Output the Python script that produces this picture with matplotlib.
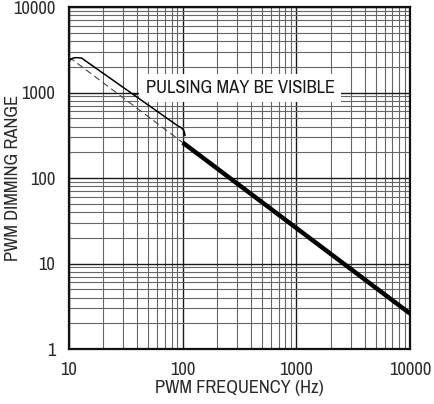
import numpy as np
import matplotlib
matplotlib.use('Agg')
import matplotlib.pyplot as plt
from matplotlib.ticker import LogLocator, FixedLocator, NullFormatter

plt.rcParams['font.family'] = ['Archivo Narrow', 'Liberation Sans', 'DejaVu Sans']

# main curve (solid) and the extrapolated part (dashed)
pwm_freq = [100, 10000]
dim_range = [260, 2.6]
dashed_freq = [10, 100]
dashed_range = [2600, 260]

# outline bracket drawn over the dashed part
bracket_freq = [10.0, 10.4, 11.0, 11.8, 12.9, 90, 95, 100, 103, 104.8]
bracket_range = [2300, 2460, 2540, 2560, 2530, 410, 395, 375, 350, 315]
notch_freq = [36.5, 39.5]
notch_range = [960, 960]

label_text = 'PULSING MAY BE VISIBLE'
label_freq = 320
label_range = 1130

x_ticks = [10, 100, 1000, 10000]
y_ticks = [1, 10, 100, 1000, 10000]

fig = plt.figure(figsize=(4.35, 4.04), dpi=100)
ax = fig.add_axes([0.1586, 0.1361, 0.7839, 0.8465])
ax.set_xscale('log')
ax.set_yscale('log')
ax.set_xlim(10, 10000)
ax.set_ylim(1, 10000)

ax.xaxis.set_major_locator(FixedLocator(x_ticks))
ax.yaxis.set_major_locator(FixedLocator(y_ticks))
ax.set_xticklabels([str(t) for t in x_ticks])
ax.set_yticklabels([str(t) for t in y_ticks])
ax.xaxis.set_minor_locator(LogLocator(base=10, subs=np.arange(2, 10)))
ax.yaxis.set_minor_locator(LogLocator(base=10, subs=np.arange(2, 10)))
ax.xaxis.set_minor_formatter(NullFormatter())
ax.yaxis.set_minor_formatter(NullFormatter())

ax.grid(True, which='major', color='0.1', linewidth=1.0)
ax.grid(True, which='minor', color='0.4', linewidth=0.8)
ax.set_axisbelow(True)

ax.tick_params(which='both', length=0)
ax.tick_params(axis='x', labelsize=13.3, pad=9, colors='#2a2a2a')
ax.tick_params(axis='y', labelsize=13.3, pad=10, colors='#2a2a2a')
for s in ax.spines.values():
    s.set_linewidth(1.6)
    s.set_color('#111111')

ax.plot(pwm_freq, dim_range, color='black', linewidth=3.2, solid_capstyle='butt', zorder=4)
ax.plot(dashed_freq, dashed_range, color='#444444', linewidth=0.8, dashes=(6, 3.5), zorder=4)
ax.plot(bracket_freq, bracket_range, color='black', linewidth=1.1, zorder=4)
ax.plot(notch_freq, notch_range, color='black', linewidth=1.1, zorder=4)

ax.text(label_freq, label_range, label_text, ha='center', va='center', fontsize=13.3,
        color='#1a1a1a', zorder=3,
        bbox=dict(boxstyle='square,pad=0.35', facecolor='white', edgecolor='none'))

ax.set_xlabel('PWM FREQUENCY (Hz)', fontsize=13.3, color='#2a2a2a', labelpad=2)
ax.set_ylabel('PWM DIMMING RANGE', fontsize=13.3, color='#2a2a2a', va='center')
ax.yaxis.set_label_coords(-0.163, 0.5)

fig.savefig('out.png', dpi=100)
